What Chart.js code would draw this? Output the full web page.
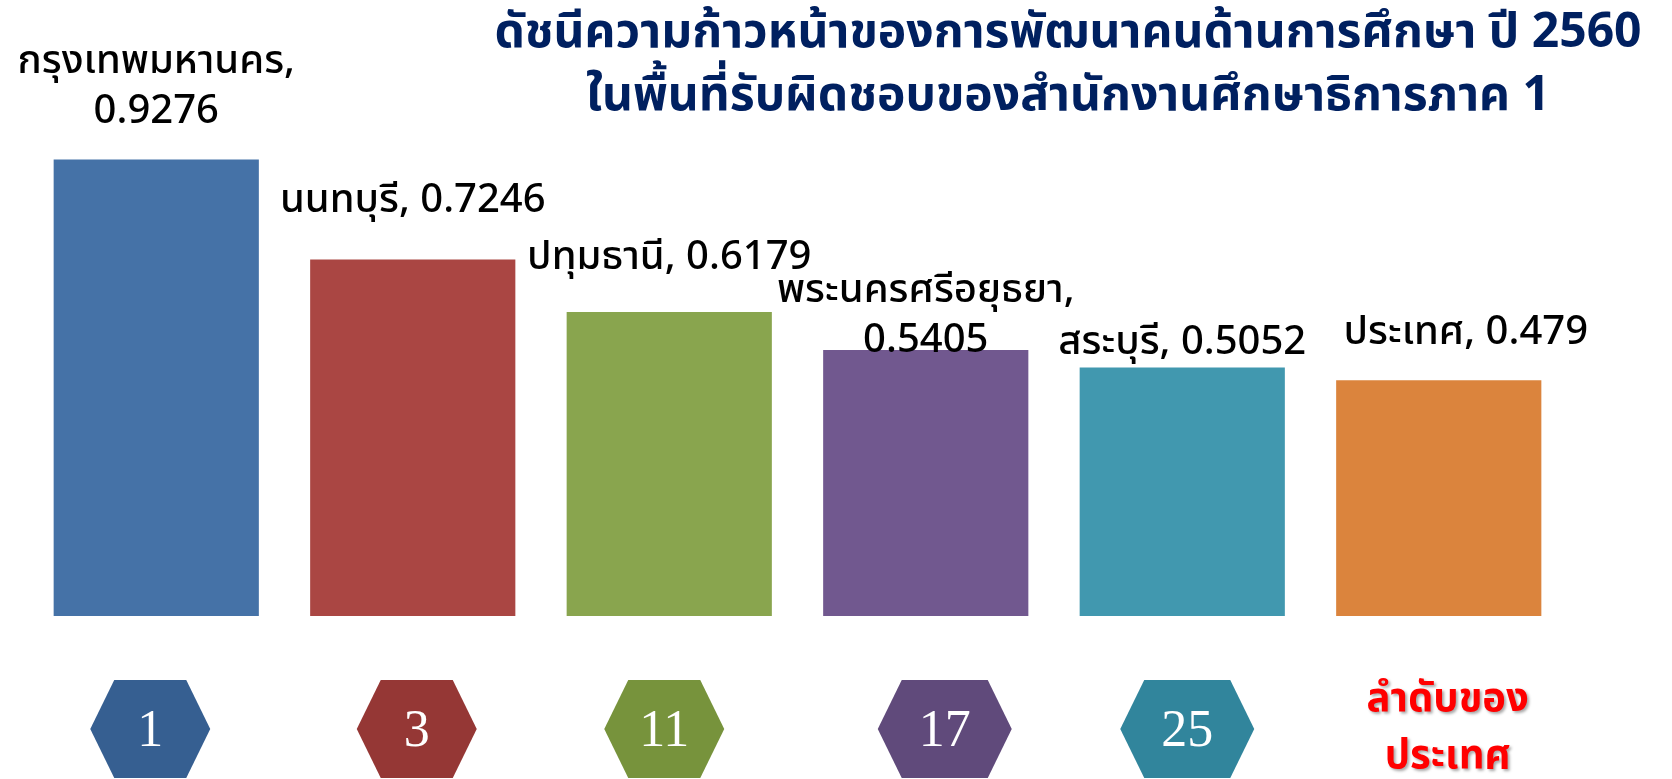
<!DOCTYPE html>
<html lang="th">
<head>
<meta charset="utf-8">
<title>ดัชนีความก้าวหน้าของการพัฒนาคนด้านการศึกษา ปี 2560</title>
<script src="https://cdn.jsdelivr.net/npm/chart.js@4.4.1/dist/chart.umd.min.js"></script>
<style>
    html, body { margin: 0; padding: 0; background: #ffffff; }
    #grafik { display: block; }
</style>
</head>
<body>
<canvas id="grafik" width="1672" height="779"></canvas>
<script>
// data
const categories = ["กรุงเทพมหานคร", "นนทบุรี", "ปทุมธานี", "พระนครศรีอยุธยา", "สระบุรี", "ประเทศ"];
const values = [0.9276, 0.7246, 0.6179, 0.5405, 0.5052, 0.479];
const ranks = ["1", "3", "11", "17", "25"];
const rankCaption = ["ลำดับของ", "ประเทศ"];
const titleLines = [
    "ดัชนีความก้าวหน้าของการพัฒนาคนด้านการศึกษา ปี 2560",
    "ในพื้นที่รับผิดชอบของสำนักงานศึกษาธิการภาค 1",
];

// styles
const barColors = ["#4572A7", "#AA4643", "#89A54E", "#71588F", "#4198AF", "#DB843D"];
const hexColors = ["#365F91", "#953735", "#77933C", "#604A7B", "#31859C"];
const hexShift = [-6, 4, -5, 19, 5];
const hexHalf = [60, 60, 60, 67, 67];
const labelWrap = [true, false, false, true, false, false];
const labelLift = [45, 56, 51, 6, 22, 44];
const labelShift = [0, 0, 0, 0, 0, 27];
const fontThai = "'Noto Sans Thai', 'Noto Sans', sans-serif";

const pluginJudul = {
    id: "judul",
    afterDraw(chart) {
        const ctx = chart.ctx;
        ctx.save();
        ctx.fillStyle = "#002060";
        ctx.font = "bold 48px " + fontThai;
        ctx.textAlign = "center";
        ctx.textBaseline = "middle";
        ctx.fillText(titleLines[0], 1068, 37);
        ctx.fillText(titleLines[1], 1068, 100);
        ctx.restore();
    },
};

const pluginLabel = {
    id: "labelBatang",
    afterDatasetsDraw(chart) {
        const ctx = chart.ctx;
        const meta = chart.getDatasetMeta(0);
        ctx.save();
        ctx.fillStyle = "#000000";
        ctx.font = "500 40px " + fontThai;
        ctx.textAlign = "center";
        ctx.textBaseline = "middle";
        meta.data.forEach((bar, i) => {
            const x = bar.x + labelShift[i];
            const y = bar.y - labelLift[i];
            if (labelWrap[i]) {
                ctx.fillText(categories[i] + ",", x, y - 50);
                ctx.fillText(String(values[i]), x, y);
            } else {
                ctx.fillText(categories[i] + ", " + values[i], x, y);
            }
        });
        ctx.restore();
    },
};

const pluginRanking = {
    id: "ranking",
    afterDraw(chart) {
        const ctx = chart.ctx;
        const skala = chart.scales.x;
        const cy = 729;
        ctx.save();
        ranks.forEach((rank, i) => {
            const cx = skala.getPixelForValue(i) + hexShift[i];
            const lebar = hexHalf[i];
            const atas = lebar - 24;
            ctx.beginPath();
            ctx.moveTo(cx - lebar, cy);
            ctx.lineTo(cx - atas, cy - 49);
            ctx.lineTo(cx + atas, cy - 49);
            ctx.lineTo(cx + lebar, cy);
            ctx.lineTo(cx + atas, cy + 49);
            ctx.lineTo(cx - atas, cy + 49);
            ctx.closePath();
            ctx.fillStyle = hexColors[i];
            ctx.fill();

            ctx.fillStyle = "#ffffff";
            ctx.font = "52px 'Liberation Serif', 'DejaVu Serif', serif";
            ctx.textAlign = "center";
            ctx.textBaseline = "middle";
            ctx.fillText(rank, cx, cy + 3);
        });

        const cxAkhir = skala.getPixelForValue(categories.length - 1) + 9;
        ctx.font = "bold 40px " + fontThai;
        ctx.textAlign = "center";
        ctx.textBaseline = "middle";
        ctx.shadowColor = "rgba(0, 0, 0, 0.35)";
        ctx.shadowOffsetX = 2;
        ctx.shadowOffsetY = 2;
        ctx.shadowBlur = 3;
        ctx.fillStyle = "#FF0000";
        ctx.fillText(rankCaption[0], cxAkhir, 703);
        ctx.fillText(rankCaption[1], cxAkhir, 760);
        ctx.restore();
    },
};

new Chart(document.getElementById("grafik"), {
    type: "bar",
    data: {
        labels: categories,
        datasets: [
            {
                data: values,
                backgroundColor: barColors,
                borderWidth: 0,
                barPercentage: 0.8,
                categoryPercentage: 1,
            },
        ],
    },
    options: {
        responsive: false,
        animation: false,
        layout: {
            padding: { left: 28, right: 105, top: 124, bottom: 163 },
        },
        plugins: {
            legend: { display: false },
            tooltip: { enabled: false },
            title: { display: false },
        },
        scales: {
            x: { display: false },
            y: { display: false, min: 0, max: 1 },
        },
    },
    plugins: [pluginJudul, pluginLabel, pluginRanking],
});
</script>
</body>
</html>
